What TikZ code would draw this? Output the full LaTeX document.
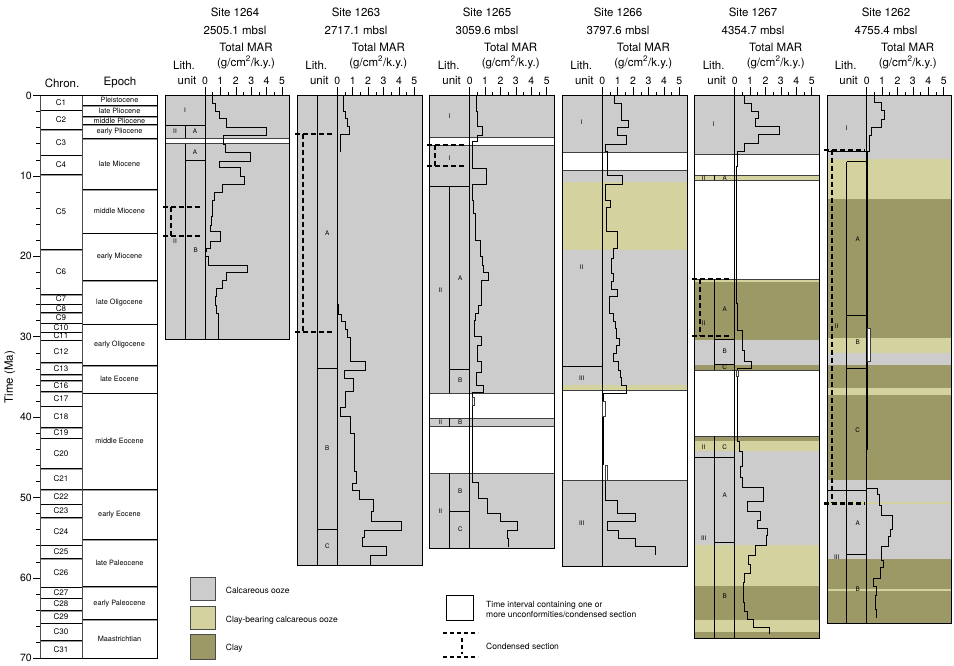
\documentclass[tikz,border=0pt]{standalone}
\usepackage{fontspec}
\setmainfont{TeX Gyre Heros}
\definecolor{cgray}{RGB}{204,204,204}
\definecolor{ckhaki}{RGB}{212,210,158}
\definecolor{colive}{RGB}{156,153,102}
\newcommand\Ty[1]{95.5+8.04*(#1)}
\tikzset{
  gapbox/.style={fill=white,draw=black!75,line width=0.6pt},
  marline/.style={draw=black,line width=0.9pt},
  divl/.style={draw=black,line width=0.6pt},
  condl/.style={draw=black,line width=2.2pt,dash pattern=on 5pt off 3pt},
  ulab/.style={font=\fontsize{6.3}{7}\selectfont,inner sep=0pt},
  hdr/.style={font=\fontsize{11.5}{13}\selectfont,inner sep=0pt},
  numl/.style={font=\fontsize{10.5}{12}\selectfont,inner sep=0pt},
  chrl/.style={font=\fontsize{8}{9}\selectfont,inner sep=0pt},
  epl/.style={font=\fontsize{7.3}{8}\selectfont,inner sep=0pt},
  legl/.style={font=\fontsize{8.5}{10.5}\selectfont,inner sep=0pt,anchor=west,align=left},
  outl/.style={draw=black,line width=0.8pt},
}
\newcommand\sitehead[4]{%
  \node[hdr] (t#3) at (#1,12) {Site #3};
  \node[hdr] (d#3) at (#1,30) {#4 mbsl};
  \node[hdr] (m#3) at ({#2+41},47) {Total MAR};
  \node[hdr] (g#3) at ({#2+41},62.5) {(g/cm\textsuperscript{2}/k.y.)};
  \node[hdr] (l#3) at ({#2-21},65.5) {Lith.};
  \node[hdr] (u#3) at ({#2-18},80.5) {unit};
  \foreach \k in {0,...,5} {
    \draw[line width=0.6pt] ({#2+\k*15.4},95.7) -- ++(0,-8.5);
    \node[numl] (n#3-\k) at ({#2+\k*15.4},80.5) {\k};
  }
  \foreach \k in {0,...,4} {
    \draw[line width=0.6pt] ({#2+7.7+\k*15.4},95.7) -- ++(0,-4);
  }
}
\begin{document}
\begin{tikzpicture}[x=1pt,y=-1pt]
\useasboundingbox (0,0) rectangle (954,666);
\fill[white] (0,0) rectangle (954,666);

% ---------------- time axis and chron / epoch columns
\node[hdr,rotate=90] (tlab) at (10,377) {Time (Ma)};
\node[hdr] (chron) at (62,83) {Chron.};
\node[hdr] (epoch) at (120,83) {Epoch};
\foreach \t in {0,2,...,70} {\draw[line width=0.5pt] (40,{\Ty{\t}}) -- ++(-4,0);}
\foreach \t in {0,10,...,70} {
  \draw[line width=0.5pt] (40,{\Ty{\t}}) -- ++(-7,0);
  \node[numl,anchor=east] (ax\t) at (32,{\Ty{\t}}) {\t};
}
\foreach \t in {1.8,4.2,7.4,9.8,19.1,24.7,25.9,27.0,28.3,29.4,30.4,33.2,34.7,35.4,36.8,38.6,41.3,42.6,46.4,49.0,50.8,52.5,55.9,57.6,61.1,62.5,64.0,65.6,67.8} {
  \draw[black!40,line width=0.9pt] (40,{\Ty{\t}+0.9}) -- (82,{\Ty{\t}+0.9});
  \draw[black,line width=0.4pt] (40,{\Ty{\t}}) -- (82,{\Ty{\t}});
}
\foreach \a/\b/\n in {0/1.8/C1,1.8/4.2/C2,4.2/7.4/C3,7.4/9.8/C4,9.8/19.1/C5,19.1/24.7/C6,24.7/25.9/C7,25.9/27.0/C8,27.0/28.3/C9,28.3/29.4/C10,29.4/30.4/C11,30.4/33.2/C12,33.2/34.7/C13,35.4/36.8/C16,36.8/38.6/C17,38.6/41.3/C18,41.3/42.6/C19,42.6/46.4/C20,46.4/49.0/C21,49.0/50.8/C22,50.8/52.5/C23,52.5/55.9/C24,55.9/57.6/C25,57.6/61.1/C26,61.1/62.5/C27,62.5/64.0/C28,64.0/65.6/C29,65.6/67.8/C30,67.8/70/C31} {
  \node[chrl] (chr-\n) at (61,{\Ty{(\a+\b)/2}}) {\n};
}
\foreach \t in {1.2,2.6,3.6,5.3,11.7,17.1,23.0,28.4,33.6,37.0,49.0,55.2,61.1,65.2} {
  \draw[black!40,line width=0.9pt] (82,{\Ty{\t}+0.9}) -- (157,{\Ty{\t}+0.9});
  \draw[black,line width=0.5pt] (82,{\Ty{\t}}) -- (157,{\Ty{\t}});
}
\foreach \a/\b/\n [count=\i] in {0/1.2/Pleistocene,1.2/2.6/late Pliocene,2.6/3.6/middle Pliocene,3.6/5.3/early Pliocene,5.3/11.7/late Miocene,11.7/17.1/middle Miocene,17.1/23.0/early Miocene,23.0/28.4/late Oligocene,28.4/33.6/early Oligocene,33.6/37.0/late Eocene,37.0/49.0/middle Eocene,49.0/55.2/early Eocene,55.2/61.1/late Paleocene,61.1/65.2/early Paleocene,65.2/70/Maastrichtian} {
  \node[epl] (ep\i) at (119.5,{\Ty{(\a+\b)/2}}) {\n};
}
\draw[black!70,line width=0.7pt] (40,{\Ty{0}}) -- (40,{\Ty{70}});
\draw[black!70,line width=0.7pt] (82,{\Ty{0}}) -- (82,{\Ty{70}});
\draw[black,line width=0.6pt] (82,{\Ty{0}}) -- (157,{\Ty{0}}) -- (157,{\Ty{70}}) -- (40,{\Ty{70}});
\draw[black,line width=0.6pt] (40,{\Ty{0}}) -- (82,{\Ty{0}});

% ---------------- headers
\sitehead{235}{205}{1264}{2505.1}
\sitehead{356}{337.33}{1263}{2717.1}
\sitehead{487}{469.67}{1265}{3059.6}
\sitehead{618}{602.33}{1266}{3797.6}
\sitehead{753}{734.67}{1267}{4354.7}
\sitehead{886}{866.67}{1262}{4755.4}

% ---------------- Site 1264
\begin{scope}[shift={(160,85)},xscale=1/3,yscale=1/3]
  \fill[cgray] (15,32) rectangle (388,762);
  \draw[gapbox] (15,159) rectangle (388,176);
  \draw[divl] (135,32) -- (135,762);
  \draw[divl] (15,122) -- (135,122);
  \draw[divl] (77,122) -- (77,159);
  \draw[divl] (77,176) -- (77,762);
  \draw[divl] (77,226) -- (135,226);
  \draw[marline] (157,32) |- (167,55) |- (178,78) |- (200,100) |- (318,128) |- (190,152) |- (195,178) |- (270,202) |- (178,228) |- (240,248) |- (253,275) |- (188,298) |- (162,322) |- (157,345) |- (153,395) |- (150,420) |- (180,440) |- (150,468) |- (140,490) |- (137,500) |- (145,515) |- (262,540) |- (200,562) |- (188,585) |- (170,610) |- (165,635) |- (170,660) |- (175,685) -- (175,762);
  \draw[condl] (8,365) -- (125,365);
  \draw[condl] (8,453) -- (125,453);
  \draw[condl] (32,365) -- (32,453);
  \draw[outl] (15,32) rectangle (388,762);
  \node[ulab] (a64-1) at (75,75) {I};
  \node[ulab] (a64-2) at (45,140) {II};
  \node[ulab] (a64-3) at (105,140) {A};
  \node[ulab] (a64-4) at (105,203) {A};
  \node[ulab] (a64-5) at (45,470) {II};
  \node[ulab] (a64-6) at (107,495) {B};
\end{scope}

% ---------------- Site 1263
\begin{scope}[shift={(290,85)},xscale=1/3,yscale=1/3]
  \fill[cgray] (22,32) rectangle (398,1440);
  \draw[divl] (82,32) -- (82,1440);
  \draw[divl] (142,32) -- (142,1440);
  \draw[divl] (82,850) -- (142,850);
  \draw[divl] (82,1333) -- (142,1333);
  \draw[marline] (160,32) |- (165,78) |- (172,100) |- (178,125) |- (152,148) -- (152,202);
  \draw[marline] (142,658) -- (145,658) |- (155,688) |- (165,710) |- (172,732) |- (180,758) |- (182,800) |- (227,828) |- (162,855) |- (190,880) |- (165,920) |- (152,968) |- (180,995) |- (192,1045) |- (198,1160) |- (188,1195) |- (207,1215) |- (250,1243) |- (243,1278) |- (333,1310) |- (222,1335) |- (218,1358) |- (290,1385) |- (240,1410) -- (240,1440);
  \draw[condl] (15,148) -- (135,148);
  \draw[condl] (15,742) -- (135,742);
  \draw[condl] (38,148) -- (38,742);
  \draw[outl] (22,32) rectangle (398,1440);
  \node[ulab] (a63-1) at (112,445) {A};
  \node[ulab] (a63-2) at (112,1090) {B};
  \node[ulab] (a63-3) at (112,1385) {C};
\end{scope}

% ---------------- Site 1265
\begin{scope}[shift={(422,85)},xscale=1/3,yscale=1/3]
  \fill[cgray] (22,32) rectangle (398,1390);
  \draw[gapbox] (22,158) rectangle (398,182);
  \draw[gapbox] (22,925) rectangle (398,1000);
  \draw[gapbox] (22,1025) rectangle (398,1165);
  \draw[divl] (143,32) -- (143,1390);
  \draw[divl] (22,303) -- (143,303);
  \draw[divl] (83,303) -- (83,925);
  \draw[divl] (83,853) -- (143,853);
  \draw[divl] (83,1000) -- (83,1025);
  \draw[divl] (83,1165) -- (83,1390);
  \draw[divl] (83,1278) -- (143,1278);
  \draw[marline] (162,32) |- (165,80) |- (180,125) |- (165,150) |- (150,170) |- (193,250) |- (152,297) |- (155,345) |- (160,385) |- (175,465) |- (180,515) |- (185,540) |- (198,562) |- (178,585) |- (170,660) |- (160,685) |- (157,705) |- (178,755) |- (167,780) |- (178,830) |- (163,862) |- (185,900) |- (150,922) |- (170,1192) |- (195,1240) |- (235,1285) |- (287,1310) |- (255,1335) |- (258,1360) -- (258,1385);
  \draw[gapbox] (150,938) rectangle (157,962);
  \draw[condl] (15,180) -- (135,180);
  \draw[condl] (15,243) -- (135,243);
  \draw[condl] (38,180) -- (38,243);
  \draw[outl] (22,32) rectangle (398,1390);
  \node[ulab] (a65-1) at (83,95) {I};
  \node[ulab] (a65-2) at (83,220) {I};
  \node[ulab] (a65-3) at (115,580) {A};
  \node[ulab] (a65-4) at (55,615) {II};
  \node[ulab] (a65-5) at (115,885) {B};
  \node[ulab] (a65-6) at (55,1012) {II};
  \node[ulab] (a65-7) at (115,1012) {B};
  \node[ulab] (a65-8) at (115,1220) {B};
  \node[ulab] (a65-9) at (55,1278) {II};
  \node[ulab] (a65-10) at (115,1333) {C};
\end{scope}

% ---------------- Site 1266
\begin{scope}[shift={(555,85)},xscale=1/3,yscale=1/3]
  \fill[cgray] (22,32) rectangle (397,1443);
  \fill[ckhaki] (22,292) rectangle (397,495);
  \fill[ckhaki] (22,900) rectangle (397,915);
  \draw[gapbox] (22,203) rectangle (397,255);
  \draw[gapbox] (22,915) rectangle (397,1187);
  \draw[divl] (142,32) -- (142,1443);
  \draw[divl] (22,845) -- (142,845);
  \draw[marline] (178,32) |- (200,55) |- (198,78) |- (220,105) |- (188,128) |- (213,150) |- (150,178) |- (157,200) |- (203,270) |- (150,297) |- (165,345) |- (153,368) |- (188,440) |- (175,490) |- (170,520) |- (175,565) |- (170,590) |- (187,612) |- (163,635) |- (175,685) |- (180,708) |- (183,730) |- (193,760) |- (185,780) |- (175,805) |- (190,828) |- (195,855) |- (200,878) |- (213,900) |- (145,925) -- (145,950);
  \draw[gapbox] (143,950) rectangle (150,995);
  \draw[line width=1.6pt] (145,995) -- (145,1140);
  \draw[gapbox] (150,1140) rectangle (157,1187);
  \draw[marline] (152,1187) |- (188,1245) |- (240,1285) |- (157,1310) |- (190,1335) |- (240,1360) |- (300,1385) -- (300,1410);
  \draw[outl] (22,32) rectangle (397,1443);
  \node[ulab] (a66-1) at (80,113) {I};
  \node[ulab] (a66-2) at (80,548) {II};
  \node[ulab] (a66-3) at (80,880) {III};
  \node[ulab] (a66-4) at (80,1315) {III};
\end{scope}

% ---------------- Site 1267
\begin{scope}[shift={(687,84.27)},xscale=1/3,yscale=1/2.8]
  \fill[cgray] (22,32) rectangle (397,1553);
  \fill[ckhaki] (22,255) rectangle (397,268);
  \fill[ckhaki] (22,545) rectangle (397,555);
  \fill[ckhaki] (22,1000) rectangle (397,1028);
  \fill[ckhaki] (22,1290) rectangle (397,1405);
  \fill[ckhaki] (22,1500) rectangle (397,1535);
  \fill[colive] (22,555) rectangle (397,715);
  \fill[colive] (22,787) rectangle (397,800);
  \fill[colive] (22,985) rectangle (397,1000);
  \fill[colive] (22,1405) rectangle (397,1500);
  \fill[colive] (22,1535) rectangle (397,1553);
  \draw[gapbox] (22,197) rectangle (397,255);
  \draw[gapbox] (22,268) rectangle (397,545);
  \draw[gapbox] (22,800) rectangle (397,985);
  \draw[divl] (143,32) -- (143,1553);
  \draw[divl] (82,255) -- (82,268);
  \draw[divl] (82,545) -- (82,800);
  \draw[divl] (82,985) -- (82,1553);
  \draw[divl] (82,715) -- (143,715);
  \draw[divl] (82,785) -- (143,785);
  \draw[divl] (22,1045) -- (143,1045);
  \draw[divl] (82,1282) -- (143,1282);
  \draw[marline] (172,32) |- (193,55) |- (215,75) |- (205,97) |- (277,118) |- (215,140) |- (172,165) |- (150,188) |- (147,230) |- (152,615) |- (165,690) |- (172,745) |- (193,775) |- (150,795) |- (152,985) |- (157,1000) |- (165,1028) |- (160,1070) |- (165,1100) |- (230,1130) |- (180,1168) |- (220,1195) |- (212,1220) |- (242,1243) |- (238,1262) |- (205,1290) |- (183,1318) |- (190,1345) |- (172,1370) |- (168,1395) |- (172,1450) |- (182,1475) |- (198,1500) |- (248,1520) -- (248,1540);
  \draw[gapbox] (148,800) rectangle (153,818);
  \draw[condl] (15,545) -- (135,545);
  \draw[condl] (15,705) -- (135,705);
  \draw[condl] (38,545) -- (38,705);
  \draw[outl] (22,32) rectangle (397,1553);
  \node[ulab] (a67-1) at (80,113) {I};
  \node[ulab] (a67-2) at (50,262) {II};
  \node[ulab] (a67-3) at (113,262) {A};
  \node[ulab] (a67-4) at (113,630) {A};
  \node[ulab] (a67-5) at (50,668) {II};
  \node[ulab] (a67-6) at (113,748) {B};
  \node[ulab] (a67-7) at (113,793) {C};
  \node[ulab] (a67-8) at (50,1015) {II};
  \node[ulab] (a67-9) at (113,1015) {C};
  \node[ulab] (a67-10) at (113,1150) {A};
  \node[ulab] (a67-11) at (50,1270) {III};
  \node[ulab] (a67-12) at (113,1433) {B};
\end{scope}

% ---------------- Site 1262
\begin{scope}[shift={(820,84.58)},xscale=1/3,yscale=1/2.877]
  \fill[cgray] (22,32) rectangle (395,1550);
  \fill[ckhaki] (22,215) rectangle (395,328);
  \fill[ckhaki] (22,728) rectangle (395,773);
  \fill[ckhaki] (22,872) rectangle (395,892);
  \fill[ckhaki] (22,1200) rectangle (395,1208);
  \fill[ckhaki] (22,1450) rectangle (395,1458);
  \fill[colive] (22,328) rectangle (395,728);
  \fill[colive] (22,808) rectangle (395,872);
  \fill[colive] (22,892) rectangle (395,1137);
  \fill[colive] (22,1365) rectangle (395,1450);
  \fill[colive] (22,1458) rectangle (395,1550);
  \draw[divl] (140,32) -- (140,1550);
  \draw[divl] (22,192) -- (140,192);
  \draw[divl] (80,222) -- (140,222);
  \draw[divl] (80,222) -- (80,1550);
  \draw[divl] (80,665) -- (140,665);
  \draw[divl] (80,815) -- (140,815);
  \draw[divl] (22,1168) -- (140,1168);
  \draw[divl] (80,1350) -- (140,1350);
  \draw[marline] (162,32) |- (183,50) |- (193,75) |- (183,100) |- (155,122) |- (148,145) |- (143,192);
  \draw[line width=1.6pt] (143,192) -- (143,1050);
  \draw[gapbox] (143,700) rectangle (152,795);
  \draw[marline] (140,1163) -- (172,1163) |- (178,1180) |- (183,1210) |- (218,1240) |- (210,1280) |- (205,1300) |- (183,1330) |- (190,1370) |- (180,1390) |- (160,1420) |- (168,1445) |- (165,1470) |- (168,1510) -- (168,1535);
  \draw[condl] (12,188) -- (135,188);
  \draw[condl] (12,1205) -- (135,1205);
  \draw[condl] (35,188) -- (35,1205);
  \draw[outl] (22,32) rectangle (395,1550);
  \node[ulab] (a62-1) at (80,125) {I};
  \node[ulab] (a62-2) at (113,445) {A};
  \node[ulab] (a62-3) at (50,695) {II};
  \node[ulab] (a62-4) at (113,740) {B};
  \node[ulab] (a62-5) at (113,993) {C};
  \node[ulab] (a62-6) at (113,1262) {A};
  \node[ulab] (a62-7) at (50,1360) {III};
  \node[ulab] (a62-8) at (113,1452) {B};
\end{scope}

% ---------------- legend
\draw[fill=cgray,draw=black!70,line width=0.6pt] (190,577.3) rectangle (215.7,600.7);
\draw[fill=ckhaki,draw=black!70,line width=0.6pt] (190,606) rectangle (215.7,629.3);
\draw[fill=colive,draw=black!70,line width=0.6pt] (190,634) rectangle (215.7,659.3);
\node[legl] (lg1) at (225.7,590) {Calcareous ooze};
\node[legl] (lg2) at (225.7,620) {Clay-bearing calcareous ooze};
\node[legl] (lg3) at (225.7,648.3) {Clay};
\draw[fill=white,draw=black,line width=0.6pt] (446,595) rectangle (473.3,620.7);
\node[legl] (lg4) at (486,609.3) {Time interval containing one or\\more unconformities/condensed section};
\draw[draw=black,line width=1.8pt,dash pattern=on 4pt off 3pt] (443.3,633.3) -- (478.3,633.3);
\draw[draw=black,line width=1.8pt,dash pattern=on 4pt off 3pt] (461.7,638) -- (461.7,654);
\draw[draw=black,line width=1.8pt,dash pattern=on 4pt off 3pt] (443.3,657.3) -- (478.3,657.3);
\node[legl] (lg5) at (486,646) {Condensed section};
\end{tikzpicture}
\end{document}
